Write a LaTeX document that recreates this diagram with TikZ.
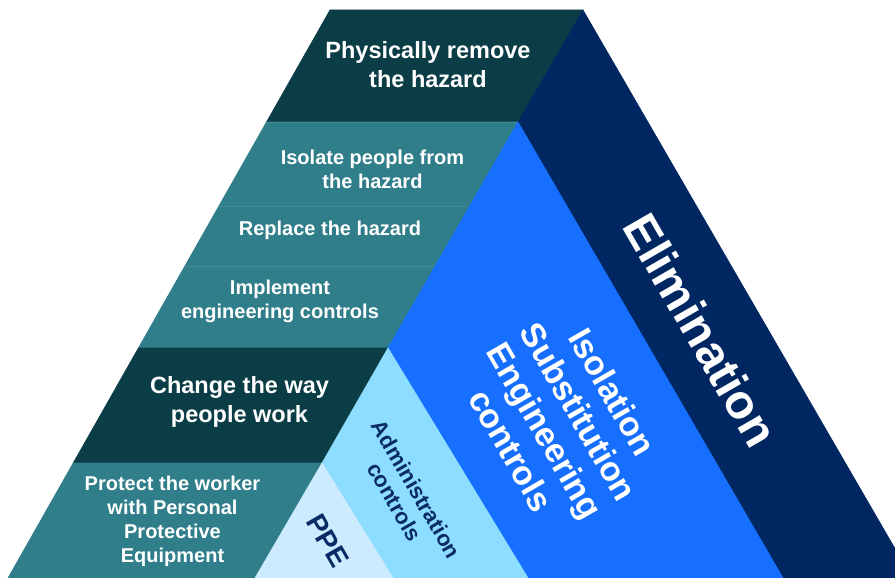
\documentclass[tikz,border=0pt]{standalone}
\usepackage{fontspec}
\setmainfont{Liberation Sans}
\usepackage{xcolor}
\usepackage{tikz}

\definecolor{hzdark}{HTML}{0B3D47}
\definecolor{hzteal}{HTML}{2F7E8A}
\definecolor{hzseam}{HTML}{428E99}
\definecolor{hznavy}{HTML}{012763}
\definecolor{hzblue}{HTML}{176FFF}
\definecolor{hzadmin}{HTML}{8CDDFF}
\definecolor{hzppe}{HTML}{CDEBFF}
\definecolor{hzink}{HTML}{0A2C66}

\begin{document}
\begin{tikzpicture}[x=1pt,y=-1pt,
    band/.style={fill=#1,draw=#1,line width=0.6pt,line join=round},
    seam/.style={draw=hzseam,line width=0.8pt},
    faintseam/.style={draw=hzteal!92!white,line width=0.5pt},
    lefttext/.style={text=white,align=center,inner sep=0pt,font=\bfseries\fontsize{20}{24}\selectfont},
    bigtext/.style={lefttext,font=\bfseries\fontsize{23.5}{29}\selectfont},
    slanttext/.style={rotate=-60,align=center,inner sep=0pt}]
        \useasboundingbox (0,0) rectangle (895,578);
        \clip (0,0) rectangle (895,578);

        %% Outer corners of the pyramid
        \coordinate (tl) at (330,10);
        \coordinate (tr) at (583,10);
        \coordinate (bl) at (8,578);
        \coordinate (br) at (912,578);

        %% Corners on the left edge
        \coordinate (l1) at (266.5,122);
        \coordinate (l2) at (218.9,206);
        \coordinate (l3) at (184.9,266);
        \coordinate (l4) at (138.4,348);
        \coordinate (l5) at (73.2,463);

        %% Inner corners
        \coordinate (elim) at (518,122);
        \coordinate (r2) at (469.7,206);
        \coordinate (r3) at (435.2,266);
        \coordinate (eng) at (388,348);
        \coordinate (adm) at (322,463);
        \coordinate (ppeL) at (255,578);
        \coordinate (ppeR) at (393,578);
        \coordinate (admR) at (528,578);
        \coordinate (engR) at (783,578);

        %% Left bands
        \path [band=hzdark] (tl) -- (tr) -- (elim) -- (l1) -- cycle;
        \path [band=hzteal] (l1) -- (elim) -- (eng) -- (l4) -- cycle;
        \path [band=hzdark] (l4) -- (eng) -- (adm) -- (l5) -- cycle;
        \path [band=hzteal] (l5) -- (adm) -- (ppeL) -- (bl) -- cycle;
        \draw [faintseam] (l1) -- (elim);
        \draw [faintseam] (l2) -- (r2);
        \draw [seam] (l3) -- (r3);

        %% Slanted bands
        \path [band=hznavy] (tr) -- (br) -- (engR) -- (elim) -- cycle;
        \path [band=hzblue] (elim) -- (engR) -- (admR) -- (eng) -- cycle;
        \path [band=hzadmin] (eng) -- (admR) -- (ppeR) -- (adm) -- cycle;
        \path [band=hzppe] (adm) -- (ppeR) -- (ppeL) -- cycle;

        %% Measures
        \node [bigtext] (remove) at (428,65) {Physically remove\\the hazard};
        \node [lefttext] (isolate) at (372.5,169.7) {Isolate people from\\the hazard};
        \node [lefttext] (replace) at (330,230.8) {Replace the hazard};
        \node [lefttext] (implement) at (280,301.5) {Implement\\engineering controls};
        \node [bigtext] (change) at (239.5,402.4) {Change the way\\people work};
        \node [lefttext] (protect) at (172.5,521.8) {Protect the worker\\with Personal\\Protective\\Equipment};

        %% Levels of control
        \node [slanttext,text=white,font=\bfseries\fontsize{48}{58}\selectfont] (elimination) at (701,330) {Elimination};
        \node [slanttext,text=white,font=\bfseries\fontsize{34}{39}\selectfont] (engineering) at (562,421) {Isolation\\Substitution\\Engineering\\controls};
        \node [slanttext,text=hzink,font=\bfseries\fontsize{22}{25}\selectfont] (admin) at (405.7,495.5) {Administration\\controls};
        \node [slanttext,text=hzink,font=\bfseries\fontsize{28}{30}\selectfont] (ppe) at (328,541) {PPE};
    \end{tikzpicture}
\end{document}
